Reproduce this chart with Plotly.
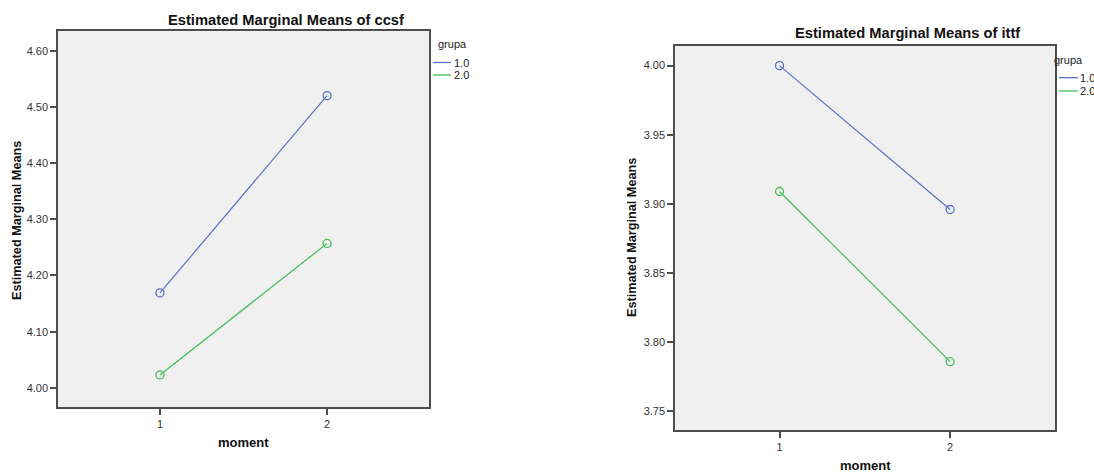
import plotly.graph_objects as go

# ---- data ----
moments = [1, 2]
groups = ["1.0", "2.0"]
ccsf_g1 = [4.169, 4.520]
ccsf_g2 = [4.023, 4.257]
ittf_g1 = [4.000, 3.896]
ittf_g2 = [3.909, 3.786]
ccsf_ticks = [4.00, 4.10, 4.20, 4.30, 4.40, 4.50, 4.60]
ittf_ticks = [3.75, 3.80, 3.85, 3.90, 3.95, 4.00]
x_ticks = [1, 2]

W, H = 1094, 473
colors = ["#5b6fc2", "#45bd58"]
FONT = "Liberation Sans, Arial, sans-serif"

fig = go.Figure()

def add_series(xref, yref, series):
    for vals, col in zip(series, colors):
        fig.add_trace(go.Scatter(
            x=moments, y=vals, mode="lines+markers",
            line=dict(color=col, width=1.2),
            marker=dict(symbol="circle-open", size=8, color=col, line=dict(width=1.3, color=col)),
            xaxis=xref, yaxis=yref, showlegend=False, hoverinfo="skip"))

add_series("x", "y", [ccsf_g1, ccsf_g2])
add_series("x2", "y2", [ittf_g1, ittf_g2])

def px(v):
    return v / W

def py(v):
    return 1 - v / H

axis_common = dict(showline=True, mirror=True, linecolor="#4d4d4d", linewidth=1.5,
                   ticks="outside", ticklen=6, tickcolor="#4d4d4d", tickwidth=1.5,
                   showgrid=False, zeroline=False,
                   tickfont=dict(family=FONT, size=11, color="#333333"))

fig.update_layout(
    width=W, height=H,
    margin=dict(l=0, r=0, t=0, b=0),
    paper_bgcolor="white", plot_bgcolor="#f0f0f0",
    xaxis=dict(domain=[px(58), px(429)], range=[0.39, 2.61], tickvals=x_ticks, anchor="y", **axis_common),
    yaxis=dict(domain=[py(407), py(31)], range=[3.966, 4.635], tickvals=ccsf_ticks, tickformat=".2f", anchor="x", **axis_common),
    xaxis2=dict(domain=[px(675), px(1055)], range=[0.387, 2.615], tickvals=x_ticks, anchor="y2", **axis_common),
    yaxis2=dict(domain=[py(430), py(46)], range=[3.7366, 4.0142], tickvals=ittf_ticks, tickformat=".2f", anchor="x2", **axis_common),
)

ann = []
def text(x, y, s, size, bold=False, angle=0, xanchor="center", color="#111111"):
    ann.append(dict(x=px(x), y=py(y), xref="paper", yref="paper", text=f"<b>{s}</b>" if bold else s,
                    showarrow=False, textangle=angle, xanchor=xanchor, yanchor="middle",
                    font=dict(family=FONT, size=size, color=color)))

# titles
text(286, 20, "Estimated Marginal Means of ccsf", 14.7, bold=True)
text(907.5, 33, "Estimated Marginal Means of ittf", 14.7, bold=True)
# axis titles
text(17, 221, "Estimated Marginal Means", 12.7, bold=True, angle=-90)
text(632, 238, "Estimated Marginal Means", 12.7, bold=True, angle=-90)
text(243.5, 442, "moment", 13, bold=True)
text(865, 465, "moment", 13, bold=True)

# legends
shapes = []
def legend(x_title, y_title, x_line0, x_line1, ys, x_text):
    text(x_title, y_title, "grupa", 11, xanchor="left", color="#222222")
    for g, col, yy in zip(groups, colors, ys):
        shapes.append(dict(type="line", xref="paper", yref="paper", x0=px(x_line0), x1=px(x_line1),
                           y0=py(yy), y1=py(yy), line=dict(color=col, width=1.3)))
        text(x_text, yy, g, 11, xanchor="left", color="#222222")

legend(436, 44, 433, 451, [62.5, 75], 452)
legend(1052, 60, 1059, 1078, [77.7, 91], 1078)

fig.update_layout(annotations=ann, shapes=shapes)
fig.write_html("out.html", config={"displayModeBar": False},
               post_script="document.body.style.margin='0';document.body.style.overflow='hidden';")
